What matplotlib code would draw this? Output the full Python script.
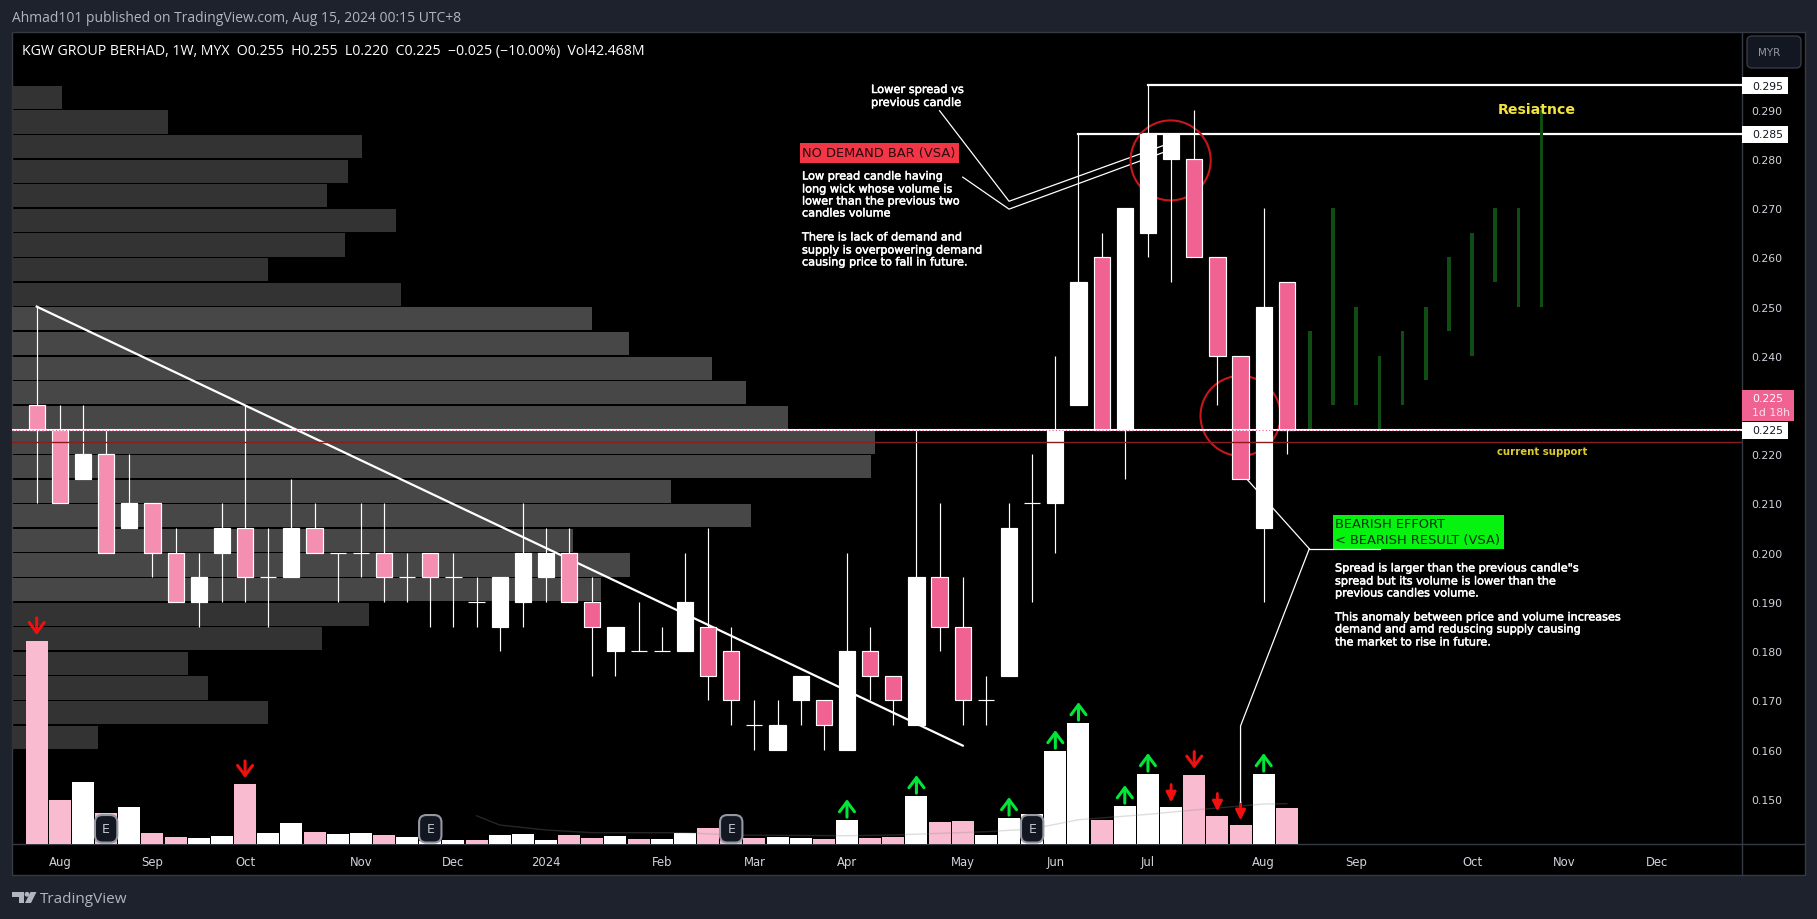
import matplotlib
matplotlib.use('Agg')
import matplotlib.pyplot as plt
import matplotlib.patheffects as pe
from matplotlib.patches import Rectangle, Ellipse, FancyBboxPatch, Polygon, Circle

W, H = 1817, 920

# weekly candles, Aug 2023 - Aug 2024
opens = [.230, .225, .215, .220, .205, .210, .200, .190, .200, .205, .195, .195, .205, .200, .200,
         .200, .195, .200, .195, .190, .185, .190, .195, .200, .190, .180, .180, .180, .180, .185,
         .180, .165, .160, .170, .170, .160, .180, .175, .165, .195, .185, .170, .175, .210, .210,
         .230, .260, .225, .265, .280, .280, .260, .240, .205, .255]
highs = [.250, .230, .230, .225, .220, .210, .205, .200, .210, .230, .205, .215, .210, .200, .210,
         .210, .200, .200, .200, .195, .195, .210, .205, .205, .195, .185, .190, .185, .200, .205,
         .185, .170, .170, .175, .170, .200, .185, .175, .225, .210, .195, .175, .210, .220, .240,
         .285, .265, .270, .295, .285, .290, .260, .240, .270, .255]
lows = [.210, .210, .215, .200, .205, .195, .190, .185, .190, .190, .185, .195, .200, .190, .195,
        .190, .190, .185, .185, .185, .180, .185, .190, .190, .175, .175, .180, .180, .180, .170,
        .165, .160, .160, .165, .160, .160, .170, .165, .165, .180, .165, .165, .175, .190, .200,
        .230, .225, .215, .260, .255, .260, .230, .215, .190, .220]
closes = [.225, .210, .220, .200, .210, .200, .190, .195, .205, .195, .195, .205, .200, .200, .200,
          .195, .195, .195, .195, .190, .195, .200, .200, .190, .185, .185, .180, .180, .190, .175,
          .170, .165, .165, .175, .165, .180, .175, .170, .195, .185, .170, .170, .205, .210, .225,
          .255, .225, .270, .285, .285, .260, .240, .215, .250, .225]
# volume in millions
volumes = [237.5, 51.5, 72.5, 36.3, 43.3, 12.9, 8.2, 7.0, 9.4, 70.2, 12.9, 24.6, 14.0, 11.7, 12.9,
           10.5, 8.2, 4.0, 4.7, 4.7, 10.5, 11.7, 4.7, 10.5, 7.0, 9.4, 5.9, 5.9, 12.9, 18.7,
           7.0, 7.0, 8.2, 7.4, 6.2, 28.4, 7.4, 8.5, 56.5, 26.1, 27.3, 10.9, 30.8, 35.5, 109.2,
           141.9, 28.4, 44.8, 82.3, 43.6, 81.1, 33.1, 22.6, 82.3, 42.5]
vol_sides = list('ppwpwppwwp' 'wwpwwpwwwp' 'wwwppwpwwp' 'ppwwpwppwp' 'pwwwwwpwww' 'pppwp')

# 20 week average of the volume, starts late because of the window
ma_index = [19, 20, 22, 24, 28, 30, 35, 37, 41, 43, 45, 48, 50, 53, 54]
ma_values = [33, 22.2, 16.4, 13.2, 13.2, 10.5, 9.7, 10.5, 14.4, 17.6, 28.4, 34.7, 39.8, 46.8, 47.2]

# volume profile, top row first
vp_tops = [.295 - .005 * k for k in range(27)]
vp_widths = [50, 156, 350, 336, 315, 384, 333, 256, 389, 580, 617, 700, 734, 776, 863, 859, 659, 739,
             561, 618, 589, 357, 310, 176, 196, 256, 86]
vp_dark = [True] * 9 + [False] * 12 + [True] * 6

# green projection bars
proj_index = [55, 56, 57, 58, 59, 60, 61, 62, 63, 64, 65]
proj_high = [.245, .270, .250, .240, .245, .250, .260, .265, .270, .270, .290]
proj_low = [.225, .230, .230, .225, .230, .235, .245, .240, .255, .250, .250]

month_pos = [1, 5, 9, 14, 18, 22, 27, 31, 35, 40, 44, 48, 53, 57, 62, 66, 70]
month_labels = ['Aug', 'Sep', 'Oct', 'Nov', 'Dec', '2024', 'Feb', 'Mar', 'Apr', 'May', 'Jun', 'Jul',
                'Aug', 'Sep', 'Oct', 'Nov', 'Dec']
price_ticks = [.15, .16, .17, .18, .19, .20, .21, .22, .24, .25, .26, .27, .28, .29]

up_arrows = [35, 38, 42, 44, 45, 47, 48, 53]
down_arrows = [0, 9, 50]
thin_down_arrows = [49, 51, 52]
earnings = [3, 17, 30, 43]

BG = '#1e222d'
GRID = '#363a45'
PINK = '#f06292'
PINK_OVER_VP = '#f48fb1'
PINK_VOL = '#f8bbd0'
TXT = '#d1d4dc'
FONT = 'DejaVu Sans'
UI_FONT = 'Open Sans'
HEAVY = [pe.withStroke(linewidth=.35, foreground='white')]


def px_rect():
    return [12 / W, 1 - 845 / H, (1742 - 12) / W, (845 - 33) / H]


fig = plt.figure(figsize=(W / 100, H / 100), dpi=100, facecolor=BG)

# page background in pixel coordinates
bg = fig.add_axes([0, 0, 1, 1], zorder=0)
bg.set_xlim(0, W)
bg.set_ylim(H, 0)
bg.axis('off')
bg.add_patch(Rectangle((12, 33), 1793, 843, fc='black', ec=GRID, lw=1))
bg.plot([12, 1805], [845, 845], color=GRID, lw=1)
bg.plot([1742, 1742], [33, 876], color=GRID, lw=1)

# volume profile
ax_vp = fig.add_axes(px_rect(), zorder=1)
ax_vp.set_xlim(0, 1730)
ax_vp.set_ylim(.14081, .30579)
ax_vp.axis('off')
ax_vp.barh([t - .0025 for t in vp_tops], vp_widths, height=.0047, left=0,
           color=['#333333' if d else '#474747' for d in vp_dark])

# volume pane
ax_vol = fig.add_axes(px_rect(), zorder=2)
ax_vol.set_xlim(-1.067, 73.66)
ax_vol.set_ylim(0, 950)
ax_vol.axis('off')
ax_vol.bar(range(len(volumes)), volumes, width=.95,
           color=[PINK_VOL if s == 'p' else 'white' for s in vol_sides])
ax_vol.plot(ma_index, ma_values, color='#888888', alpha=.28, lw=1)

for i in up_arrows:
    ax_vol.annotate('', xytext=(i, volumes[i] + 3), xy=(i, volumes[i] + 24),
                    arrowprops=dict(arrowstyle='->,head_length=.36,head_width=.27', color='#00e639', lw=2.2,
                                    shrinkA=0, shrinkB=0, mutation_scale=20))
for i in down_arrows:
    ax_vol.annotate('', xytext=(i, volumes[i] + 27), xy=(i, volumes[i] + 7),
                    arrowprops=dict(arrowstyle='->,head_length=.36,head_width=.27', color='#f01010', lw=2.2,
                                    shrinkA=0, shrinkB=0, mutation_scale=20))
for i in thin_down_arrows:
    ax_vol.annotate('', xytext=(i, volumes[i] + 26), xy=(i, volumes[i] + 5),
                    arrowprops=dict(arrowstyle='-|>,head_length=.3,head_width=.15', color='#f01010', lw=2,
                                    shrinkA=0, shrinkB=0, mutation_scale=20))

# price pane
ax = fig.add_axes(px_rect(), zorder=3)
ax.patch.set_visible(False)
ax.set_xlim(-1.067, 73.66)
ax.set_ylim(.14081, .30579)
for s in ax.spines.values():
    s.set_visible(False)
ax.yaxis.tick_right()
ax.set_yticks(price_ticks)
ax.set_yticklabels(['%.3f' % p for p in price_ticks], color=TXT, fontsize=7.8, family=FONT)
ax.set_xticks(month_pos)
ax.set_xticklabels(month_labels, color=TXT, fontsize=8.4, family=FONT)
ax.tick_params(axis='y', length=0, pad=7)
ax.tick_params(axis='x', length=0, pad=8)

# drawings under the candles
ax.plot([0, 40], [.25, .1608], color='white', lw=1.6, zorder=2)
ax.plot([48, 73.66], [.295, .295], color='white', lw=1.6, zorder=2)
ax.plot([45, 73.66], [.285, .285], color='white', lw=1.6, zorder=2)
ax.plot([39, 42, 48.65], [.2898, .2714, .2827], color='white', lw=.9, zorder=2)
ax.plot([40, 42, 48.65], [.2763, .2698, .2813], color='white', lw=.9, zorder=2)
ax.plot([52.3, 54.97], [.2148, .2008], color='white', lw=.9, zorder=2)
ax.plot([54.97, 52, 52], [.2008, .1648, .1493], color='white', lw=.9, zorder=2)
for cx, cy in [(48.98, .2797), (52.0, .2278)]:
    ax.add_patch(Ellipse((cx, cy), 3.46, .01625, fc='none', ec='#c8161d', lw=1.5, zorder=2))

ax.bar(proj_index, [h - l for h, l in zip(proj_high, proj_low)], bottom=proj_low, width=.16,
       color='#0f4d14', zorder=2)

# candles
for i in range(len(opens)):
    up = closes[i] >= opens[i]
    col = 'white' if up else (PINK_OVER_VP if i <= 23 else PINK)
    ax.vlines(i, lows[i], highs[i], color='white', lw=.85, zorder=3)
    ax.bar(i, abs(closes[i] - opens[i]), bottom=min(opens[i], closes[i]), width=.7,
           color=col, edgecolor='white', lw=.85, zorder=4)

ax.axhline(.225, color='white', lw=1.5, zorder=5)
ax.axhline(.225, color=PINK, lw=.8, ls=(0, (1, 2)), zorder=6)
ax.axhline(.2225, color='#8a1c1c', lw=1, zorder=6)

for i in earnings:
    ax.text(i, .1439, 'E', color='#c3c6ce', fontsize=9, family=FONT, ha='center', va='center', zorder=8,
            bbox=dict(boxstyle='round,pad=.58', fc='#131722', ec='#9598a1', lw=1.5))

# labels and chrome in pixels
ov = fig.add_axes([0, 0, 1, 1], zorder=4)
ov.patch.set_visible(False)
ov.set_xlim(0, W)
ov.set_ylim(H, 0)
ov.axis('off')

ov.text(12, 18, 'Ahmad101 published on TradingView.com, Aug 15, 2024 00:15 UTC+8', color='#b2b5be',
        fontsize=10, family=UI_FONT, va='center')
ov.text(22, 51, 'KGW GROUP BERHAD, 1W, MYX  O0.255  H0.255  L0.220  C0.225  \u22120.025 (\u221210.00%)  Vol42.468M',
        color='white', fontsize=10.2, family=UI_FONT, va='center')

# TradingView logo
ov.add_patch(Polygon([(12, 893), (24, 893), (24, 904), (18.5, 904), (18.5, 898), (12, 898)], fc='#b2b5be', lw=0))
ov.add_patch(Circle((27, 895.3), 2.4, fc='#b2b5be', lw=0))
ov.add_patch(Polygon([(30.5, 893), (36.5, 893), (31, 904), (25, 904)], fc='#b2b5be', lw=0))
ov.text(40, 900, 'TradingView', color='#b2b5be', fontsize=11, family=UI_FONT, va='center')

# MYR button
ov.add_patch(FancyBboxPatch((1749, 39), 50, 28, boxstyle='round,pad=2,rounding_size=5', fc='#131722', ec=GRID, lw=1))
ov.text(1769, 53, 'MYR', color='#9598a1', fontsize=7.5, family=FONT, ha='center', va='center')

for top, label in [(78, '0.295'), (127, '0.285'), (423, '0.225')]:
    ov.add_patch(Rectangle((1742, top), 46, 17, fc='white', lw=0))
    ov.text(1752, top + 8.5, label, color='#131722', fontsize=7.8, family=FONT, va='center')
ov.add_patch(Rectangle((1742, 391), 52, 30.7, fc=PINK, lw=0))
ov.text(1752, 399, '0.225', color='white', fontsize=7.8, family=FONT, va='center')
ov.text(1752, 413, '1d 18h', color='#fde0ea', fontsize=7.8, family=FONT, va='center')

for py, line in [(91, 'Lower spread vs'), (104, 'previous candle')]:
    ov.text(871, py, line, color='white', fontsize=8.2, family=FONT, va='center', path_effects=HEAVY)

ov.add_patch(Rectangle((800, 144), 159, 20, fc='#f23645', lw=0))
ov.text(802, 154, 'NO DEMAND BAR (VSA)', color='#2a0a10', fontsize=9.4, family=FONT, va='center')
lines_red = [(177.5, 'Low pread candle having'), (190.5, 'long wick whose volume is'),
             (202.5, 'lower than the previous two'), (214.5, 'candles volume'),
             (238.5, 'There is lack of demand and'), (251.5, 'supply is overpowering demand'),
             (263.5, 'causing price to fall in future.')]
for py, line in lines_red:
    ov.text(802, py, line, color='white', fontsize=8.1, family=FONT, va='center', path_effects=HEAVY)

ov.text(1537, 110.5, 'Resiatnce', color='#f2e33f', fontsize=10.2, family=FONT, weight='bold', ha='center', va='center')
ov.text(1542, 452, 'current support', color='#dccb2e', fontsize=7.3, family=FONT, weight='bold', ha='center', va='center')

ov.add_patch(Rectangle((1333, 516), 171, 34, fc='#06f20f', lw=0))
ov.plot([1309.4, 1380], [550, 550], color='white', lw=.9)
ov.text(1335, 525, 'BEARISH EFFORT', color='#0b2e14', fontsize=9.4, family=FONT, va='center')
ov.text(1335, 540.5, '< BEARISH RESULT (VSA)', color='#0b2e14', fontsize=9.4, family=FONT, va='center')
lines_green = [(569.5, 'Spread is larger than the previous candle"s'), (582.5, 'spread but its volume is lower than the'),
               (594.5, 'previous candles volume.'), (618.5, 'This anomaly between price and volume increases'),
               (630.5, 'demand and amd reduscing supply causing'), (643.5, 'the market to rise in future.')]
for py, line in lines_green:
    ov.text(1335, py, line, color='white', fontsize=8.1, family=FONT, va='center', path_effects=HEAVY)

fig.savefig('out.png', dpi=100, facecolor=BG)
